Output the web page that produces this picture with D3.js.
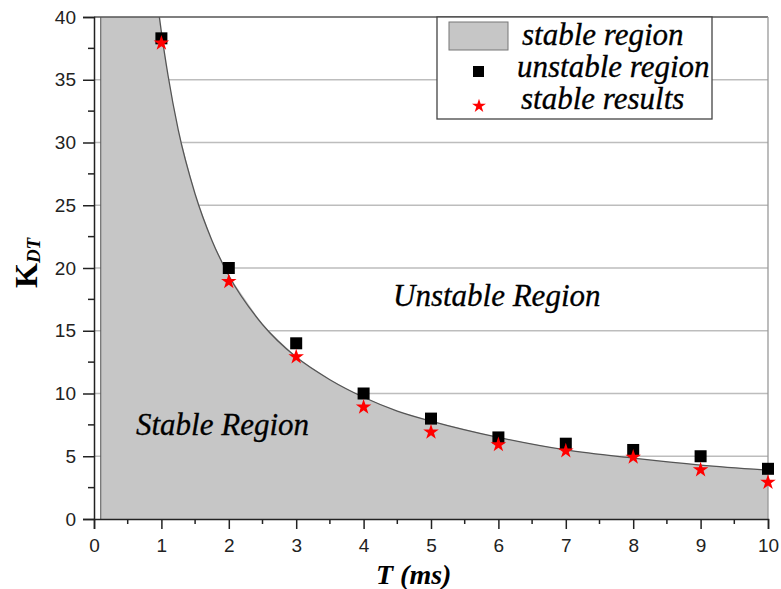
<!DOCTYPE html>
<html><head><meta charset="utf-8">
<script src="https://cdn.jsdelivr.net/npm/d3@7"></script>
<style>body{margin:0;background:#fff}svg{display:block}</style>
</head><body>
<script>
// Boundary curve (stable region edge)
const curveT = [0.1, 0.97, 1.0, 1.1, 1.25, 1.5, 1.75, 2.0, 2.5, 3.0, 3.5, 4.0, 4.5, 5.0, 6.0, 7.0, 8.0, 9.0, 10.0];
const curveK = [40, 40, 38.8, 35.3, 31.0, 25.9, 22.2, 19.4, 15.5, 12.9, 11.1, 9.7, 8.6, 7.8, 6.5, 5.5, 4.85, 4.3, 3.9];
// Unstable region points (squares)
const unstableT = [1, 2, 3, 4, 5, 6, 7, 8, 9, 10];
const unstableK = [38.3, 20, 14, 10, 8, 6.5, 6, 5.5, 5, 4];
// Stable results (stars)
const stableT = [1, 2, 3, 4, 5, 6, 7, 8, 9, 10];
const stableK = [38, 19, 13, 9, 7, 6, 5.5, 5, 4, 3];
const xTicks = [0,1,2,3,4,5,6,7,8,9,10];
const yTicks = [0,5,10,15,20,25,30,35,40];
const legendLabels = ["stable region", "unstable region", "stable results"];

const SERIF = "'Liberation Serif', 'Times New Roman', serif";
const SANS = "'Liberation Sans', Arial, sans-serif";
const W = 781, H = 589;
const svg = d3.select("body").append("svg").attr("width", W).attr("height", H);
const x = d3.scaleLinear().domain([0,10]).range([94,768]);
const y = d3.scaleLinear().domain([0,40]).range([519,17]);

// grid lines
svg.append("g").selectAll("line").data(yTicks.filter(d=>d>0&&d<40)).join("line")
  .attr("x1", x(0)).attr("x2", x(10)).attr("y1", d=>y(d)).attr("y2", d=>y(d))
  .attr("stroke", "#bdbdbd").attr("stroke-width", 1.3);

// stable region fill
const pts = curveT.map((t,i)=>[t, curveK[i]]);
const poly = [[0.1,0]].concat(pts).concat([[10,0]]);
svg.append("path")
  .attr("d", d3.line().x(d=>x(d[0])).y(d=>y(d[1]))(poly) + "Z")
  .attr("fill", "#c6c6c6").attr("stroke", "none");
// left edge of fill
svg.append("line").attr("x1", x(0.1)).attr("x2", x(0.1)).attr("y1", y(0)).attr("y2", y(40))
  .attr("stroke", "#555").attr("stroke-width", 1);
// boundary curve
svg.append("path")
  .attr("d", d3.line().curve(d3.curveMonotoneX).x(d=>x(d[0])).y(d=>y(d[1]))(pts.slice(1)))
  .attr("fill", "none").attr("stroke", "#555").attr("stroke-width", 1.3);

// frame top & right
svg.append("line").attr("x1", x(0)).attr("x2", x(10)).attr("y1", y(40)).attr("y2", y(40))
  .attr("stroke", "#555").attr("stroke-width", 1.3);
svg.append("line").attr("x1", x(10)).attr("x2", x(10)).attr("y1", y(40)).attr("y2", y(0))
  .attr("stroke", "#999").attr("stroke-width", 1.3);

// axes
const xAxis = d3.axisBottom(x).tickValues(xTicks).tickFormat(d3.format("d")).tickSizeOuter(0).tickSize(10).tickPadding(10);
const gx = svg.append("g").attr("transform", `translate(0,${y(0)})`).call(xAxis);
gx.append("g").selectAll("line").data(d3.range(0.5,10,1)).join("line")
  .attr("x1", d=>x(d)).attr("x2", d=>x(d)).attr("y1", 0).attr("y2", 5).attr("stroke", "#222").attr("stroke-width", 1.5);
const yAxis = d3.axisLeft(y).tickValues(yTicks).tickFormat(d3.format("d")).tickSizeOuter(0).tickSize(11).tickPadding(7);
const gy = svg.append("g").attr("transform", `translate(${x(0)},0)`).call(yAxis);
gy.append("g").selectAll("line").data(d3.range(2.5,40,5)).join("line")
  .attr("x1", -6).attr("x2", 0).attr("y1", d=>y(d)).attr("y2", d=>y(d)).attr("stroke", "#222").attr("stroke-width", 1.5);
[gx, gy].forEach(g=>{
  g.attr("font-family", null).attr("font-size", null);
  g.selectAll("path.domain").attr("stroke", "#222").attr("stroke-width", 1.5);
  g.selectAll(".tick line").attr("stroke", "#222").attr("stroke-width", 1.5);
  g.selectAll("text").style("font-family", SANS).style("font-size", "19px").attr("fill", "#222");
});

// markers
const sq = 12;
svg.append("g").selectAll("rect").data(unstableT.map((t,i)=>[t, unstableK[i]])).join("rect")
  .attr("x", d=>x(d[0])-sq/2).attr("y", d=>y(d[1])-sq/2).attr("width", sq).attr("height", sq).attr("fill", "#000");
const star = d3.symbol().type(d3.symbolStar).size(75);
svg.append("g").selectAll("path").data(stableT.map((t,i)=>[t, stableK[i]])).join("path")
  .attr("d", star).attr("transform", d=>`translate(${x(d[0])},${y(d[1])+1})`).attr("fill", "#ff0000");

// legend
const lg = svg.append("g");
lg.append("rect").attr("x", 437).attr("y", 17).attr("width", 275).attr("height", 102)
  .attr("fill", "#fff").attr("stroke", "#444").attr("stroke-width", 1.3);
lg.append("rect").attr("x", 449).attr("y", 22).attr("width", 59).attr("height", 28)
  .attr("fill", "#c6c6c6").attr("stroke", "#777").attr("stroke-width", 1);
lg.append("rect").attr("x", 473).attr("y", 66).attr("width", 11).attr("height", 11).attr("fill", "#000");
lg.append("path").attr("d", d3.symbol().type(d3.symbolStar).size(60)).attr("transform", "translate(479,106)").attr("fill", "#ff0000");
const lx = [522, 517, 521], ly = [45, 77, 109];
lg.selectAll("text").data(legendLabels).join("text")
  .attr("x", (d,i)=>lx[i]).attr("y", (d,i)=>ly[i]).text(d=>d)
  .style("font-family", SERIF).style("font-style", "italic").style("font-size", "31px")
  .attr("fill", "#000").attr("stroke", "#000").attr("stroke-width", 0.3);

// region labels
svg.append("text").attr("x", 393).attr("y", 306).text("Unstable Region")
  .style("font-family", SERIF).style("font-style", "italic").style("font-size", "31px")
  .attr("stroke", "#000").attr("stroke-width", 0.3);
svg.append("text").attr("x", 136).attr("y", 435).text("Stable Region")
  .style("font-family", SERIF).style("font-style", "italic").style("font-size", "31px")
  .attr("stroke", "#000").attr("stroke-width", 0.3);

// axis titles
svg.append("text").attr("x", 376).attr("y", 584)
  .style("font-family", SERIF).style("font-style", "italic").style("font-weight", "bold").style("font-size", "28px")
  .text("T (ms)");
const yl = svg.append("text").attr("transform", "translate(37,288) rotate(-90)").attr("text-anchor", "start")
  .style("font-family", SERIF).style("font-weight", "bold").style("font-size", "32px");
yl.append("tspan").text("K");
yl.append("tspan").text("DT").style("font-size", "19px").style("font-style", "italic").attr("dy", 3);
</script>
</body></html>
